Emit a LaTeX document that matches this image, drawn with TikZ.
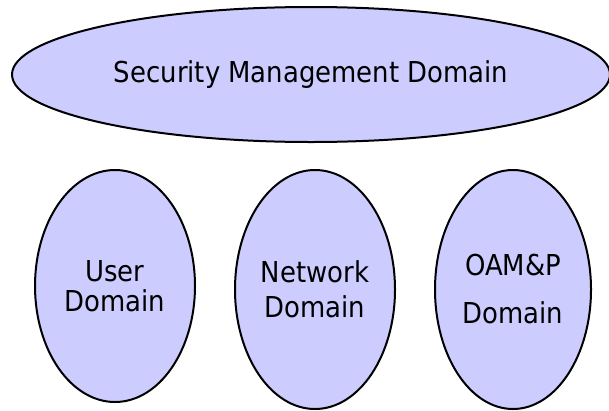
\documentclass[tikz,border=0pt]{standalone}
\usepackage{fontspec}
\newfontfamily\domfont{DejaVu Sans Condensed}
\usetikzlibrary{shapes.geometric, positioning}
\definecolor{lavender}{HTML}{CCCCFF}
\tikzset{
  dom/.style = {ellipse, draw=black, fill=lavender, line width=2pt,
    inner sep=0pt, outer sep=0pt, align=center,
    font=\domfont\fontsize{28.8}{30}\selectfont},
  subdom/.style = {dom, minimum width=160pt, minimum height=239pt}
}
\begin{document}
\begin{tikzpicture}[x=1pt,y=-1pt]
\useasboundingbox (0,0) rectangle (609,410);
\node [dom, minimum width=598pt, minimum height=135pt] (secmgmt)
  at (311,74.5) {Security Management Domain};
\node [subdom, minimum height=232pt] (user) at (115,286) {User\\Domain};
\node [subdom] (network) at (315,289.5) {Network\\[5pt]Domain};
\node [subdom, minimum width=156pt] (oamp) at (513,289.5) {OAM\&P\\[18pt]Domain};
\end{tikzpicture}
\end{document}
